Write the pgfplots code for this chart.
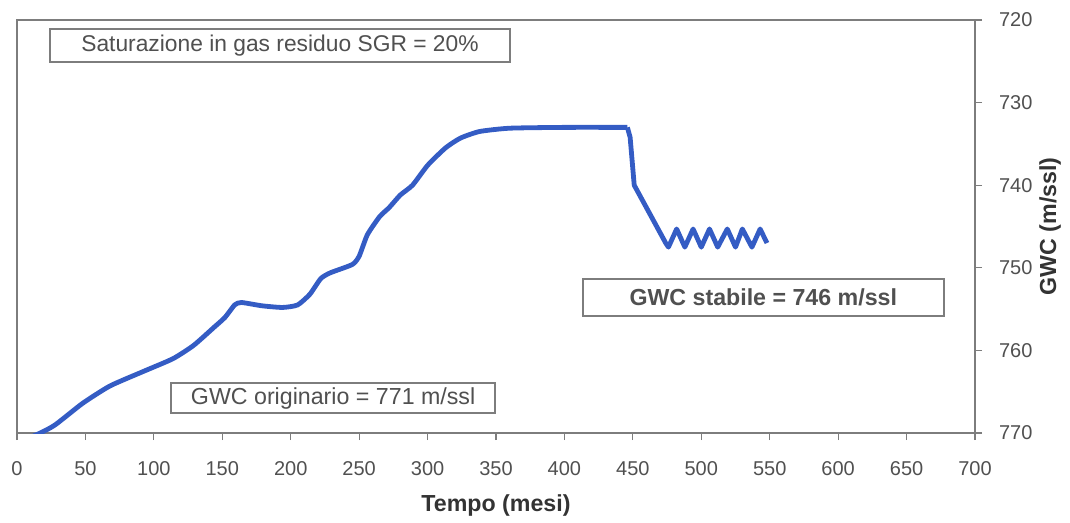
\documentclass[border=0pt]{standalone}
\usepackage{fontspec}
\setmainfont{Liberation Sans}
\usepackage{pgfplots}
\pgfplotsset{compat=1.18}
\definecolor{curve}{RGB}{52,92,196}
\definecolor{axisgray}{RGB}{125,125,125}
\definecolor{txtgray}{RGB}{80,80,80}
\begin{document}
\begin{tikzpicture}
% fixed page size (1 px of the reference = 0.5pt)
\path (-8.5pt,-44pt) rectangle (526.5pt,216.5pt);
\begin{axis}[
    width=479pt, height=206.5pt,
    scale only axis,
    xmin=0, xmax=700,
    ymin=720, ymax=770,
    y dir=reverse,
    xtick={0,50,...,700},
    ytick={720,730,...,770},
    xtick pos=bottom,
    ytick pos=right,
    yticklabel pos=right,
    tick align=outside,
    major tick length=3.5pt,
    axis line style={draw=axisgray, line width=0.8pt},
    tick style={draw=axisgray, line width=0.6pt},
    tick label style={font=\fontsize{10}{12}\selectfont, text=txtgray},
    /pgf/number format/assume math mode=true,
    /pgf/number format/1000 sep={},
    xticklabel style={yshift=-7pt},
    yticklabel style={xshift=5pt},
    xlabel={\textbf{Tempo (mesi)}},
    ylabel={\textbf{GWC (m/ssl)}},
    every axis x label/.style={at={(axis description cs:0.5,0)}, yshift=-36pt, anchor=center, font=\fontsize{11.6}{13}\selectfont, text=black!80},
    every axis y label/.style={at={(axis description cs:1,0.5)}, xshift=37.5pt, anchor=center, rotate=90, font=\fontsize{11.6}{13}\selectfont, text=black!80},
]
% rise and plateau
\addplot[curve, line width=2.4pt, smooth, tension=0.35] coordinates {
    (0,771.2) (17,770) (28,769) (48,766.4) (68,764.3) (93,762.5)
    (114,761) (129,759.4) (144,757.2) (152,756) (159,754.5) (164,754.2)
    (179,754.6) (194,754.8) (205,754.5) (214,753.2) (222,751.3) (229,750.6)
    (245,749.6) (250,748.6) (256,746) (265,743.8) (272,742.7) (280,741.2)
    (289,740) (300,737.6) (313,735.5) (324,734.3) (338,733.5) (360,733.1)
    (400,733) (446,733)
};
% decline and oscillation
\addplot[curve, line width=2.4pt, line join=round] coordinates {
    (446,733) (448,734.2) (451,740) (474,747)
    (476,747.5) (482,745.3) (488,747.5) (494,745.3) (500,747.5) (506,745.3)
    (512,747.5) (519,745.3) (525,747.5) (530,745.3) (537,747.5) (543,745.3)
    (548,747)
};
\node[draw=axisgray, line width=0.9pt, fill=white, minimum width=230pt, minimum height=16.5pt,
      inner sep=0pt, font=\fontsize{11.4}{13}\selectfont, text=txtgray]
    at (rel axis cs:0.2745,0.938) {Saturazione in gas residuo SGR = 20\%};
\node[draw=axisgray, line width=0.9pt, fill=white, minimum width=162pt, minimum height=15pt,
      inner sep=0pt, font=\fontsize{11.6}{13}\selectfont, text=txtgray]
    at (rel axis cs:0.33,0.0847) {GWC originario = 771 m/ssl};
\node[draw=axisgray, line width=0.9pt, fill=white, minimum width=180.5pt, minimum height=18.5pt,
      inner sep=0pt, font=\bfseries\fontsize{11.6}{13}\selectfont, text=txtgray]
    at (rel axis cs:0.779,0.329) {GWC stabile = 746 m/ssl};
\end{axis}
\end{tikzpicture}
\end{document}
